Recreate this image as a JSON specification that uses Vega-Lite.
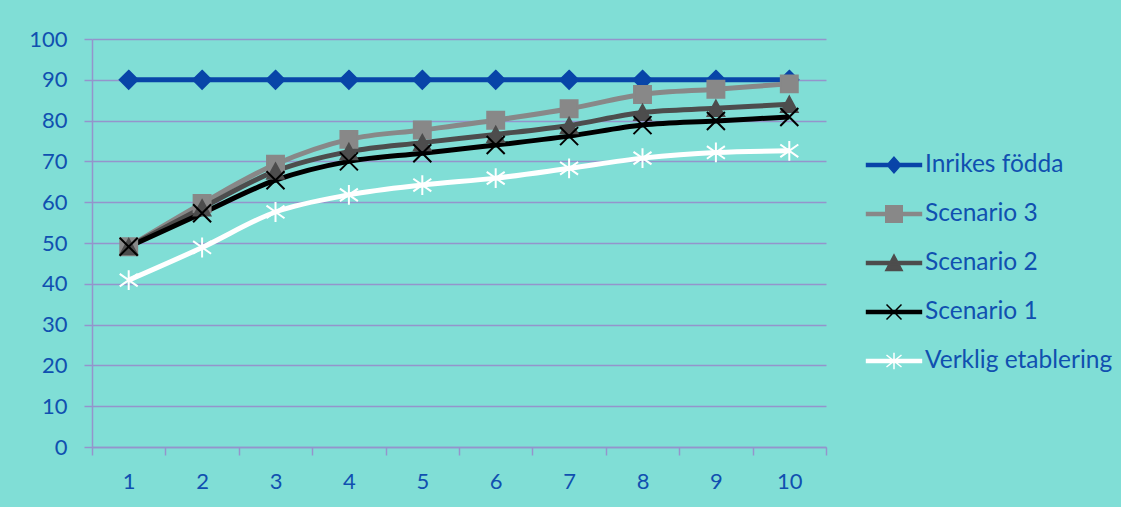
{
  "$schema": "https://vega.github.io/schema/vega-lite/v6.json",
  "width": 734,
  "height": 408,
  "autosize": {"type": "none"},
  "padding": {"left": 92, "top": 39, "right": 295, "bottom": 60},
  "background": "#80DED6",
  "config": {
    "view": {"stroke": null},
    "axis": {"labelFont": "Lato", "labelFontSize": 22, "labelColor": "#1050B0", "domainColor": "#9494CC", "tickColor": "#9494CC", "gridColor": "#9494CC", "domainWidth": 1.5, "tickWidth": 1.5, "gridWidth": 1.5, "gridOpacity": 1, "title": null}
  },
  "data": {"values": [
    {"series": "Inrikes födda", "x": 1, "y": 90}, {"series": "Inrikes födda", "x": 2, "y": 90}, {"series": "Inrikes födda", "x": 3, "y": 90}, {"series": "Inrikes födda", "x": 4, "y": 90}, {"series": "Inrikes födda", "x": 5, "y": 90},
    {"series": "Inrikes födda", "x": 6, "y": 90}, {"series": "Inrikes födda", "x": 7, "y": 90}, {"series": "Inrikes födda", "x": 8, "y": 90}, {"series": "Inrikes födda", "x": 9, "y": 90}, {"series": "Inrikes födda", "x": 10, "y": 90},
    {"series": "Scenario 3", "x": 1, "y": 49.1}, {"series": "Scenario 3", "x": 2, "y": 59.7}, {"series": "Scenario 3", "x": 3, "y": 69.3}, {"series": "Scenario 3", "x": 4, "y": 75.4}, {"series": "Scenario 3", "x": 5, "y": 77.7},
    {"series": "Scenario 3", "x": 6, "y": 80.1}, {"series": "Scenario 3", "x": 7, "y": 82.9}, {"series": "Scenario 3", "x": 8, "y": 86.4}, {"series": "Scenario 3", "x": 9, "y": 87.7}, {"series": "Scenario 3", "x": 10, "y": 89.0},
    {"series": "Scenario 2", "x": 1, "y": 49.1}, {"series": "Scenario 2", "x": 2, "y": 58.6}, {"series": "Scenario 2", "x": 3, "y": 67.6}, {"series": "Scenario 2", "x": 4, "y": 72.4}, {"series": "Scenario 2", "x": 5, "y": 74.6},
    {"series": "Scenario 2", "x": 6, "y": 76.6}, {"series": "Scenario 2", "x": 7, "y": 78.8}, {"series": "Scenario 2", "x": 8, "y": 82.0}, {"series": "Scenario 2", "x": 9, "y": 83.0}, {"series": "Scenario 2", "x": 10, "y": 84.0},
    {"series": "Scenario 1", "x": 1, "y": 49.1}, {"series": "Scenario 1", "x": 2, "y": 57.3}, {"series": "Scenario 1", "x": 3, "y": 65.4}, {"series": "Scenario 1", "x": 4, "y": 70.0}, {"series": "Scenario 1", "x": 5, "y": 72.0},
    {"series": "Scenario 1", "x": 6, "y": 74.0}, {"series": "Scenario 1", "x": 7, "y": 76.2}, {"series": "Scenario 1", "x": 8, "y": 78.9}, {"series": "Scenario 1", "x": 9, "y": 79.9}, {"series": "Scenario 1", "x": 10, "y": 80.9},
    {"series": "Verklig etablering", "x": 1, "y": 40.9}, {"series": "Verklig etablering", "x": 2, "y": 48.9}, {"series": "Verklig etablering", "x": 3, "y": 57.6}, {"series": "Verklig etablering", "x": 4, "y": 61.8}, {"series": "Verklig etablering", "x": 5, "y": 64.2},
    {"series": "Verklig etablering", "x": 6, "y": 65.9}, {"series": "Verklig etablering", "x": 7, "y": 68.3}, {"series": "Verklig etablering", "x": 8, "y": 70.8}, {"series": "Verklig etablering", "x": 9, "y": 72.2}, {"series": "Verklig etablering", "x": 10, "y": 72.6}
  ]},
  "encoding": {
    "x": {"field": "x", "type": "quantitative", "scale": {"domain": [0.5, 10.5], "nice": false, "zero": false},
      "axis": {"values": [0.5, 1, 1.5, 2, 2.5, 3, 3.5, 4, 4.5, 5, 5.5, 6, 6.5, 7, 7.5, 8, 8.5, 9, 9.5, 10, 10.5], "labelExpr": "datum.value % 1 ? '' : '' + datum.value", "tickOpacity": {"condition": {"test": "datum.value % 1 === 0", "value": 0}, "value": 1}, "tickSize": 8, "labelPadding": 16, "grid": false, "labelFlush": false, "labelOverlap": false}},
    "y": {"field": "y", "type": "quantitative", "scale": {"domain": [0, 100], "nice": false},
      "axis": {"values": [0, 10, 20, 30, 40, 50, 60, 70, 80, 90, 100], "tickSize": 8, "labelPadding": 17, "grid": true, "labelFlush": false}}
  },
  "layer": [
    {
      "mark": {"type": "line", "strokeWidth": 5, "interpolate": "monotone"},
      "encoding": {
        "color": {"field": "series", "type": "nominal", "scale": {"domain": ["Inrikes födda", "Scenario 3", "Scenario 2", "Scenario 1", "Verklig etablering"], "range": ["#0845A8", "#888888", "#4D4D4D", "#000000", "#FFFFFF"]},
          "legend": {"title": null, "orient": "none", "legendX": 786, "legendY": 110, "padding": 0, "symbolSize": 900, "rowPadding": 21, "labelOffset": 15, "labelLimit": 400, "labelFont": "Lato", "labelFontSize": 24.5, "labelColor": "#1050B0", "symbolStrokeWidth": 1.5, "symbolOpacity": 1,
            "symbolType": {"expr": "['M-1.83,-0.1H1.83V0.1H-1.83Z M0,-0.52L0.46,0L0,0.52L-0.46,0Z','M-1.83,-0.1H1.83V0.1H-1.83Z M-0.55,-0.55H0.55V0.55H-0.55Z','M-1.83,-0.1H1.83V0.1H-1.83Z M0,-0.55L0.55,0.5H-0.55Z','M-1.83,-0.1H1.83V0.1H-1.83Z M-0.5,-0.5L0.5,0.5M0.5,-0.5L-0.5,0.5','M-1.83,-0.1H1.83V0.1H-1.83Z M-0.5,-0.4L0.5,0.4M0.5,-0.4L-0.5,0.4M0,-0.55V0.55'][indexof(['Inrikes födda','Scenario 3','Scenario 2','Scenario 1','Verklig etablering'], datum.value)]"},
            "symbolFillColor": {"expr": "scale('color', datum.value)"},
            "symbolStrokeColor": {"expr": "scale('color', datum.value)"}
          }}
      }
    },
    {
      "mark": {"type": "point", "size": 324, "strokeWidth": 2, "opacity": 1},
      "encoding": {
        "fill": {"condition": [
          {"test": "datum.series === 'Inrikes födda'", "value": "#0845A8"},
          {"test": "datum.series === 'Scenario 3'", "value": "#888888"},
          {"test": "datum.series === 'Scenario 2'", "value": "#4D4D4D"},
          {"test": "datum.series === 'Scenario 1'", "value": "#000000"}], "value": "#FFFFFF"},
        "stroke": {"condition": [
          {"test": "datum.series === 'Inrikes födda'", "value": "#0845A8"},
          {"test": "datum.series === 'Scenario 3'", "value": "#888888"},
          {"test": "datum.series === 'Scenario 2'", "value": "#4D4D4D"},
          {"test": "datum.series === 'Scenario 1'", "value": "#000000"}], "value": "#FFFFFF"},
        "shape": {"condition": [
          {"test": "datum.series === 'Inrikes födda'", "value": "M0,-1L1,0L0,1L-1,0Z"},
          {"test": "datum.series === 'Scenario 3'", "value": "M-0.94,-0.94H0.94V0.94H-0.94Z"},
          {"test": "datum.series === 'Scenario 2'", "value": "M0,-0.85L0.92,0.85H-0.92Z"},
          {"test": "datum.series === 'Scenario 1'", "value": "M-1,-1L1,1M1,-1L-1,1"}], "value": "M-1,-0.7L1,0.7M1,-0.7L-1,0.7M0,-1.1V1.1"}
      }
    }
  ]
}
